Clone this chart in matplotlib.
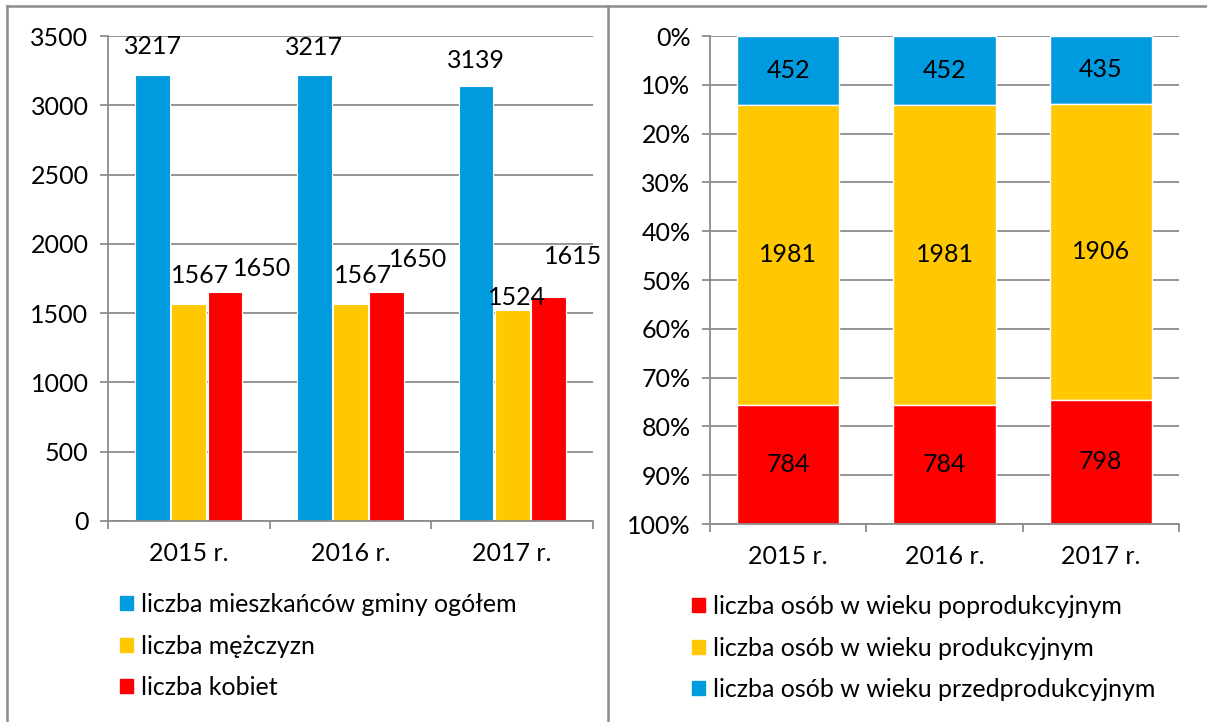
import numpy as np
import matplotlib.pyplot as plt
from matplotlib.lines import Line2D
from matplotlib.ticker import FuncFormatter

plt.rcParams['font.family'] = ['Lato', 'DejaVu Sans']

years = ['2015 r.', '2016 r.', '2017 r.']

# left chart
ogolem = [3217, 3217, 3139]
mezczyzni = [1567, 1567, 1524]
kobiety = [1650, 1650, 1615]

# right chart (counts, shown as shares)
przedprod = [452, 452, 435]
prod = [1981, 1981, 1906]
poprod = [784, 784, 798]

BLUE = '#009ADE'
YELLOW = '#FFC800'
RED = '#FF0000'
GRID = '#8C8C8C'
FS = 18

W, H = 1207, 722
fig = plt.figure(figsize=(W / 100, H / 100), dpi=100)


def px_box(x0, x1, y_top, y_bot):
    return [x0 / W, 1 - y_bot / H, (x1 - x0) / W, (y_bot - y_top) / H]


def style_axes(ax):
    for s in ['top', 'right']:
        ax.spines[s].set_visible(False)
    for s in ['left', 'bottom']:
        ax.spines[s].set_color(GRID)
        ax.spines[s].set_linewidth(1.3)
    ax.set_axisbelow(True)
    ax.yaxis.grid(True, color=GRID, linewidth=1.3)
    ax.tick_params(axis='y', length=6, width=1.3, color=GRID, labelsize=FS, pad=8)
    ax.tick_params(axis='x', which='major', length=0, labelsize=FS, pad=15)
    ax.set_xticks([-0.5, 0.5, 1.5, 2.5], minor=True)
    ax.tick_params(axis='x', which='minor', length=6, width=1.3, color=GRID)
    ax.set_xlim(-0.5, 2.5)


def add_legend(handles, labels, x_px, y_px):
    fig.legend(handles, labels, loc='upper left', bbox_to_anchor=(x_px / W, 1 - y_px / H),
               frameon=False, fontsize=FS, borderpad=0, borderaxespad=0,
               handlelength=0.5, handleheight=0.5, handletextpad=0.33, labelspacing=0.74)


# ---- left: grouped bars ----
ax1 = fig.add_axes(px_box(108, 593, 36, 521))
x = np.arange(len(years))
bw, step = 0.215, 0.223
series1 = [(ogolem, BLUE), (mezczyzni, YELLOW), (kobiety, RED)]
for i, (vals, col) in enumerate(series1):
    ax1.bar(x + (i - 1) * step, vals, bw, color=col, edgecolor='white', linewidth=0.8)

style_axes(ax1)
ax1.set_ylim(0, 3500)
ax1.set_yticks(range(0, 3501, 500))
ax1.set_xticks(x)
ax1.set_xticklabels(years)

# label offsets in pixels (dx, dy from bar top center), as placed in the original
offs = [
    [(0, 29), (0, 28), (0, 26)],
    [(11, 28), (13, 28), (5, 12)],
    [(37, 24), (32, 33), (25, 41)],
]
for i, (vals, col) in enumerate(series1):
    for j, v in enumerate(vals):
        dx, dy = offs[i][j]
        ax1.annotate(str(v), (x[j] + (i - 1) * step, v), xytext=(dx, dy),
                     textcoords='offset pixels', ha='center', va='center', fontsize=FS)

h1 = [plt.Rectangle((0, 0), 1, 1, color=c) for c in (BLUE, YELLOW, RED)]
add_legend(h1, ['liczba mieszkańców gminy ogółem', 'liczba mężczyzn', 'liczba kobiet'], 120, 593)

# ---- right: 100% stacked bars ----
ax2 = fig.add_axes(px_box(710, 1179, 36, 524))
tot = np.array(przedprod) + np.array(prod) + np.array(poprod)
stack = [(przedprod, BLUE), (prod, YELLOW), (poprod, RED)]
bottom = np.zeros(len(years))
for vals, col in stack:
    share = np.array(vals) / tot
    ax2.bar(x, share, 0.655, bottom=bottom, color=col, edgecolor='white', linewidth=1)
    for j, v in enumerate(vals):
        ax2.text(x[j], bottom[j] + share[j] / 2, str(v), ha='center', va='center', fontsize=FS)
    bottom += share

style_axes(ax2)
ax2.set_ylim(1, 0)
ax2.set_yticks(np.arange(0, 1.01, 0.1))
ax2.yaxis.set_major_formatter(FuncFormatter(lambda v, p: f'{v * 100:.0f}%'))
ax2.set_xticks(x)
ax2.set_xticklabels(years)

h2 = [plt.Rectangle((0, 0), 1, 1, color=c) for c in (RED, YELLOW, BLUE)]
add_legend(h2, ['liczba osób w wieku poprodukcyjnym', 'liczba osób w wieku produkcyjnym',
                'liczba osób w wieku przedprodukcyjnym'], 692, 595)

# frame lines of the original picture
ty = 1 - 6 / H
for xs, ys in [([7 / W, 1], [ty, ty]), ([7 / W, 7 / W], [0, ty]), ([608 / W, 608 / W], [0, ty])]:
    fig.add_artist(Line2D(xs, ys, color=GRID, linewidth=1.8))

fig.savefig('out.png', dpi=100, facecolor='white')
